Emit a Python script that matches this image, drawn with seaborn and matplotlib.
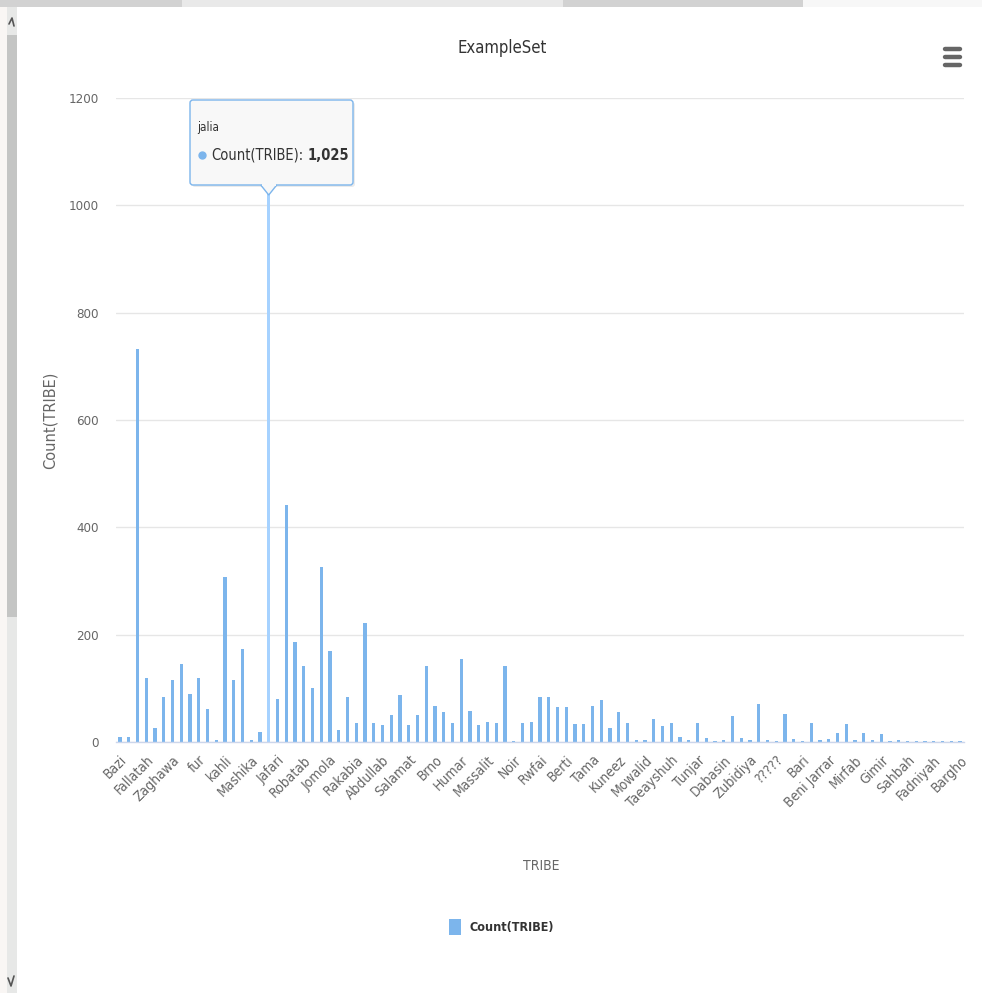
import matplotlib
matplotlib.use("Agg")
import matplotlib.pyplot as plt
from matplotlib.patches import Rectangle, FancyBboxPatch, Polygon
from matplotlib.lines import Line2D
import seaborn as sns
import pandas as pd

# Tribe categories in axis order
tribes = [
    "Bazi", "Hawazma", "Jaalin", "Fallatah", "Kawahla", "Shukriya", "Zaghawa", "Rizeigat",
    "Misseriya", "fur", "Habbaniya", "Birgid", "kahli", "Hamar", "Danagla", "Mashika",
    "Meidob", "jalia", "Jafari", "Shaigiya", "Hadendowa", "Robatab", "Kababish", "Jawamaa",
    "Jomola", "Bederia", "Ahamda", "Rakabia", "Rufaa", "Lahawiyin", "Abdullab", "Batahin",
    "Kenana", "Salamat", "Mahas", "Manasir", "Brno", "Beja", "Nuba", "Humar",
    "Amarar", "Bishariyin", "Massalit", "Rashaida", "Tunjur", "Noir", "Daju", "Mima",
    "Rwfai", "Mahria", "Taaisha", "Berti", "Maaliya", "Sungor", "Tama", "Erenga",
    "Mararit", "Kuneez", "Kinin", "Halfawiyin", "Mowalid", "Sukkot", "Gimma", "Taeayshuh",
    "Dinka", "Nuer", "Tunjar", "Shilluk", "Ingessana", "Dabasin", "Hausa", "Zayadia",
    "Zubidiya", "Bani Halba", "Bideyat", "?????", "Kunuz", "Bani Amer", "Bari", "Nubians",
    "Dagu", "Beni Jarrar", "Kanuri", "Kreish", "Mirfab", "Fartit", "Binga", "Gimir",
    "Yulu", "Kara", "Sahbah", "Feroge", "Mandala", "Fadniyah", "Ndogo", "Banda", "Bargho",
]

# Count(TRIBE) per category
counts = [
    10, 10, 733, 119, 26, 84, 116, 145,
    90, 119, 61, 3, 308, 116, 173, 3,
    19, 1025, 81, 442, 186, 141, 100, 327,
    170, 22, 84, 35, 221, 35, 32, 51,
    87, 32, 51, 141, 68, 55, 35, 154,
    58, 32, 38, 35, 141, 1, 35, 38,
    84, 84, 65, 65, 33, 33, 68, 78,
    26, 55, 36, 4, 4, 42, 29, 36,
    10, 4, 36, 7, 1, 4, 48, 7,
    4, 71, 3, 1, 52, 6, 1, 36,
    3, 6, 17, 33, 3, 17, 3, 14,
    1, 3, 1, 1, 1, 1, 1, 1, 1,
]

y_ticks = [0, 200, 400, 600, 800, 1000, 1200]
label_step = 3
hover_tribe = "jalia"

BAR = "#7cb5ec"
BAR_HOVER = "#a6d2ff"
TXT = "#666666"
DARK = "#333333"

sns.set_theme(style="white")
plt.rcParams["font.family"] = ["DejaVu Sans"]
plt.rcParams["font.stretch"] = "condensed"

W, H = 982, 993
fig = plt.figure(figsize=(W / 100, H / 100), dpi=100)
fig.patch.set_facecolor("white")


def box(x, y, w, h, **kw):
    """Rectangle given in pixel coordinates from the top-left corner."""
    fig.patches.append(Rectangle((x / W, 1 - (y + h) / H), w / W, h / H,
                                 transform=fig.transFigure, **kw))


# window chrome: tab strip and scrollbar
box(0, 0, 182, 7, facecolor="#d2d2d2", edgecolor="none")
box(182, 0, 381, 7, facecolor="#e9e9e9", edgecolor="none")
box(563, 0, 240, 7, facecolor="#d2d2d2", edgecolor="none")
box(803, 0, 179, 7, facecolor="#f7f7f7", edgecolor="none")
box(0, 7, 7, 986, facecolor="#f9f6f4", edgecolor="none")
box(7, 7, 10, 986, facecolor="#e7e8e7", edgecolor="none")
box(7, 35, 10, 582, facecolor="#c4c5c4", edgecolor="none")
fig.add_artist(Line2D([9 / W, 12 / W, 14 / W], [1 - 24 / H, 1 - 18 / H, 1 - 26 / H],
                      transform=fig.transFigure, color="#555555", lw=1.2))
fig.add_artist(Line2D([8 / W, 11 / W, 14 / W], [1 - 978 / H, 1 - 986 / H, 1 - 976 / H],
                      transform=fig.transFigure, color="#555555", lw=1.2))

# plot area
left, right = 115.6, 964.4
top, bottom = 98, 742
ax = fig.add_axes([left / W, 1 - bottom / H, (right - left) / W, (bottom - top) / H])

df = pd.DataFrame({"TRIBE": tribes, "Count(TRIBE)": counts})
sns.barplot(data=df, x="TRIBE", y="Count(TRIBE)", color=BAR, width=0.36,
            saturation=1, edgecolor="none", ax=ax)

hover_idx = tribes.index(hover_tribe)
ax.patches[hover_idx].set_facecolor(BAR_HOVER)

ax.set_xlim(-0.5, len(tribes) - 0.5)
ax.set_ylim(y_ticks[0], y_ticks[-1])
ax.set_yticks(y_ticks)
ax.set_yticklabels([str(v) for v in y_ticks], color=TXT, fontsize=9.5)
ax.yaxis.grid(True, color="#e6e6e6", lw=1)
ax.set_axisbelow(True)

tick_pos = list(range(0, len(tribes), label_step))
ax.set_xticks(tick_pos)
ax.set_xticklabels([tribes[i] for i in tick_pos], rotation=45, ha="right",
                   rotation_mode="anchor", color=TXT, fontsize=10)
ax.tick_params(axis="x", length=0, pad=8)
ax.tick_params(axis="y", length=0, pad=12)
ax.set_xlabel("")
ax.set_ylabel("")

for s in ["top", "right", "left"]:
    ax.spines[s].set_visible(False)
ax.spines["bottom"].set_color("#ccd6eb")
ax.spines["bottom"].set_linewidth(1)

# titles
fig.text(502 / W, 1 - 48 / H, "ExampleSet", ha="center", va="center",
         fontsize=12, color=DARK)
fig.text(50 / W, 1 - 420 / H, "Count(TRIBE)", ha="center", va="center",
         rotation=90, fontsize=10.5, fontstretch="normal", color=TXT)
fig.text(541 / W, 1 - 866 / H, "TRIBE", ha="center", va="center",
         fontsize=10, color=TXT)

# legend
box(449, 919, 12, 16, facecolor=BAR, edgecolor="none")
fig.text(470 / W, 1 - 927 / H, "Count(TRIBE)", ha="left", va="center",
         fontsize=9, fontweight="bold", color=DARK)

# menu icon
for yy in (49, 57, 65):
    fig.add_artist(Line2D([945 / W, 960 / W], [1 - yy / H, 1 - yy / H],
                          transform=fig.transFigure, color=TXT, lw=3.2,
                          solid_capstyle="round"))

# hover tooltip for the highlighted bar
bx, by, bw, bh = 190, 100, 163, 85
tip_x = ax.transData.transform((hover_idx, counts[hover_idx]))[0]
shadow = FancyBboxPatch(((bx + 2) / W, 1 - (by + bh + 2) / H), bw / W, bh / H,
                        boxstyle="round,pad=0.0,rounding_size=0.003",
                        transform=fig.transFigure, facecolor="#000000", alpha=0.08,
                        edgecolor="none")
fig.patches.append(shadow)
tip = FancyBboxPatch((bx / W, 1 - (by + bh) / H), bw / W, bh / H,
                     boxstyle="round,pad=0.0,rounding_size=0.003",
                     transform=fig.transFigure, facecolor="#f8f8f8",
                     edgecolor=BAR, lw=1)
fig.patches.append(tip)
fig.patches.append(Polygon([((tip_x - 8) / W, 1 - (by + bh) / H),
                            (tip_x / W, 1 - (by + bh + 10) / H),
                            ((tip_x + 8) / W, 1 - (by + bh) / H)],
                           closed=False, transform=fig.transFigure,
                           facecolor="#f8f8f8", edgecolor=BAR, lw=1))
fig.patches.append(Rectangle(((tip_x - 7) / W, 1 - (by + bh + 0.5) / H), 14 / W, 1.5 / H,
                             transform=fig.transFigure, facecolor="#f8f8f8",
                             edgecolor="none"))
fig.text(197 / W, 1 - 127 / H, hover_tribe, ha="left", va="center",
         fontsize=8.5, color=DARK)
fig.add_artist(Line2D([202 / W], [1 - 155 / H], transform=fig.transFigure,
                      marker="o", markersize=5, color=BAR, lw=0))
fig.canvas.draw()
t1 = fig.text(211 / W, 1 - 155 / H, "Count(TRIBE):", ha="left", va="center",
              fontsize=10.5, color=DARK)
ext = t1.get_window_extent(renderer=fig.canvas.get_renderer())
fig.text((ext.x1 + 4) / W, 1 - 155 / H, f"{counts[hover_idx]:,}", ha="left",
         va="center", fontsize=10.5, fontweight="bold", color=DARK)

fig.savefig("out.png", dpi=100)
